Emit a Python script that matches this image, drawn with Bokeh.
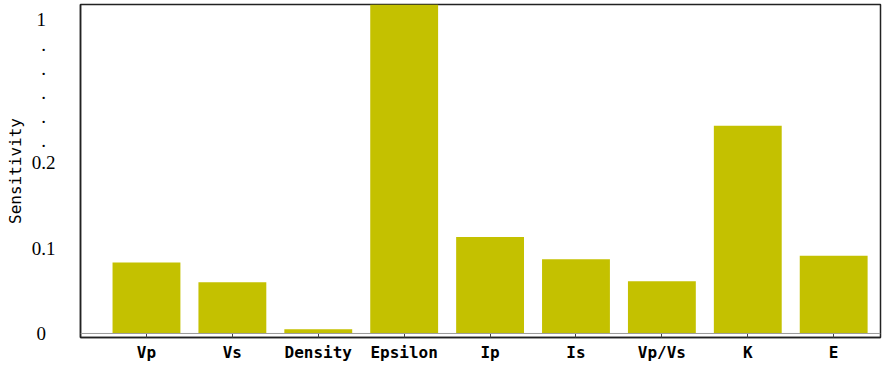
from bokeh.plotting import figure
from bokeh.models import Range1d, Span, FixedTicker
from bokeh.embed import file_html
from bokeh.resources import INLINE

# ---- data ----
categories = ["Vp", "Vs", "Density", "Epsilon", "Ip", "Is", "Vp/Vs", "K", "E"]
sensitivity = [0.083, 0.060, 0.005, 1.0, 0.113, 0.087, 0.061, 0.243, 0.091]
y_ticks = [0, 0.1, 0.2]
y_tick_labels = ["0\u00a0\u00a0", "0.1", "0.2"]
break_ticks = [0.226, 0.254, 0.282, 0.310, 0.338]   # axis-break dots
top_tick = 0.368
top_tick_label = "1\u00a0\u00a0"

x = list(range(len(categories)))

p = figure(width=886, height=367, output_backend="svg", toolbar_location=None,
           x_range=Range1d(-0.768, 8.545), y_range=Range1d(-0.0047, 0.385),
           min_border_left=80, min_border_right=6, min_border_top=4, min_border_bottom=30)

p.vbar(x=x, top=sensitivity, bottom=0, width=0.79, fill_color="#C4C100", line_color=None)

p.add_layout(Span(location=0, dimension="width", line_color="#9a9a9a", line_width=1))

p.xgrid.visible = False
p.ygrid.visible = False
p.outline_line_color = "#222222"
p.outline_line_width = 1.5
p.background_fill_color = "white"
p.border_fill_color = "white"

xa = p.xaxis[0]
xa.ticker = FixedTicker(ticks=x)
xa.major_label_overrides = {i: c for i, c in zip(x, categories)}
xa.major_tick_in = 4
xa.major_tick_out = 0
xa.major_tick_line_color = "#444444"
xa.minor_tick_line_color = None
xa.axis_line_color = "#222222"
xa.axis_line_width = 1.5
xa.major_label_text_font = "DejaVu Sans Mono"
xa.major_label_text_font_style = "bold"
xa.major_label_text_font_size = "16px"
xa.major_label_text_color = "black"
xa.major_label_standoff = 5

ya = p.yaxis[0]
all_ticks = y_ticks + break_ticks + [top_tick]
ya.ticker = FixedTicker(ticks=all_ticks)
overrides = {t: l for t, l in zip(y_ticks, y_tick_labels)}
overrides.update({t: ".\u00a0\u00a0" for t in break_ticks})
overrides[top_tick] = top_tick_label
ya.major_label_overrides = overrides
ya.major_tick_in = 0
ya.major_tick_out = 0
ya.minor_tick_line_color = None
ya.axis_line_color = "#222222"
ya.axis_line_width = 1.5
ya.major_label_text_font = "Liberation Serif"
ya.major_label_text_font_size = "19px"
ya.major_label_text_color = "black"
ya.major_label_standoff = 25
ya.axis_label = "Sensitivity"
ya.axis_label_text_font = "DejaVu Sans Mono"
ya.axis_label_text_font_style = "normal"
ya.axis_label_text_font_size = "16px"
ya.axis_label_text_color = "black"
ya.axis_label_standoff = 4

open("out.html", "w").write(file_html(p, INLINE))
